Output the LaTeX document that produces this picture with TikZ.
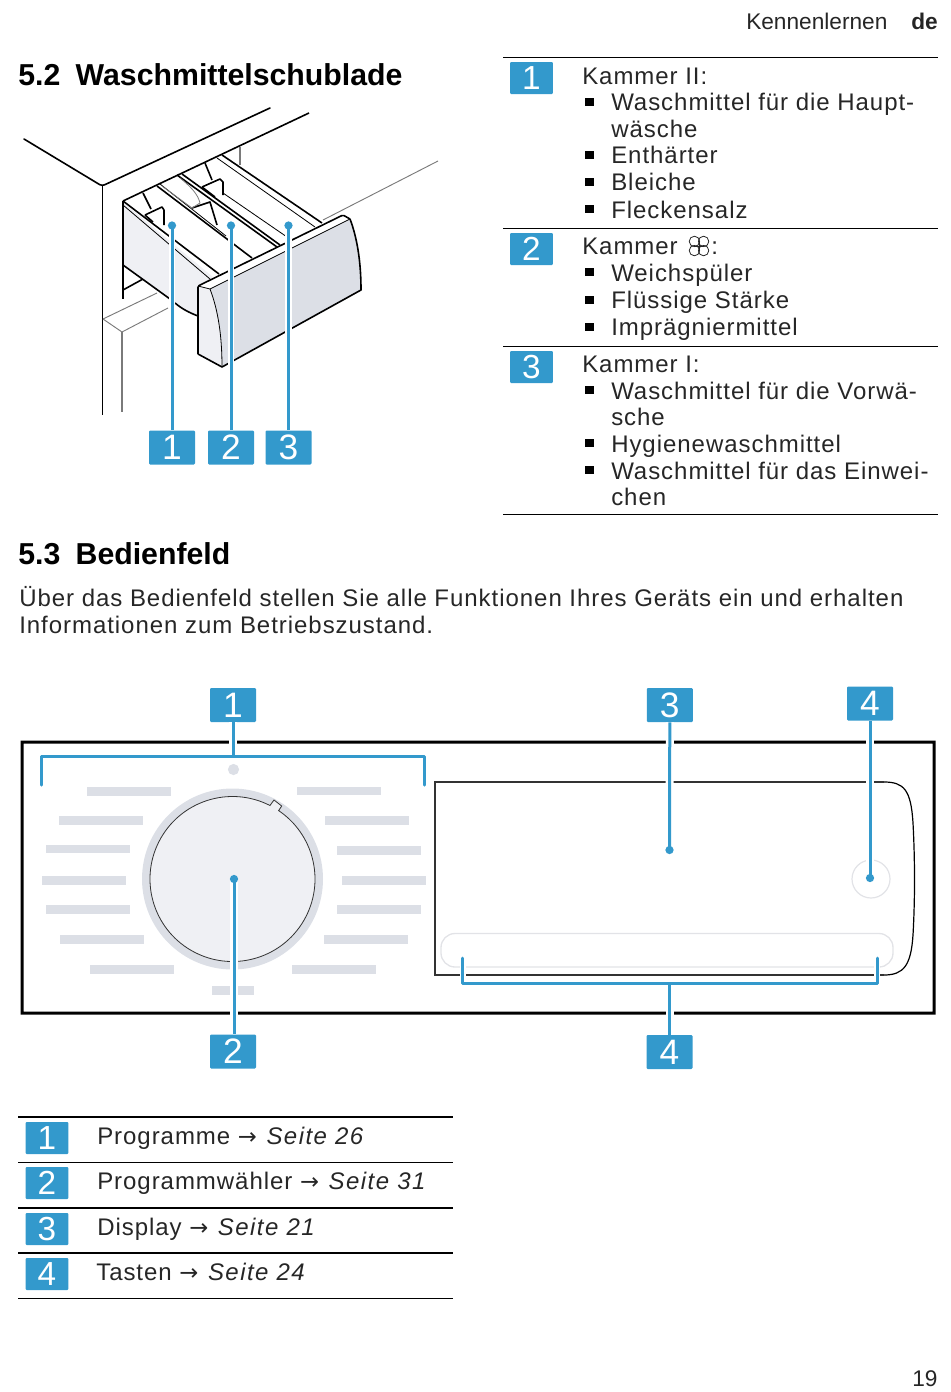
\documentclass[tikz,border=0pt]{standalone}
\usepackage{fontspec}
\setmainfont{Liberation Sans}[LetterSpace=4]
\newfontfamily\plainfont{Liberation Sans}
\newfontfamily\symfont{DejaVu Sans}
\newfontfamily\seitefont{Liberation Sans Italic}[LetterSpace=6]
\definecolor{boxblue}{HTML}{3399CC}
\definecolor{barg}{HTML}{DCDFE6}
\definecolor{knobg}{HTML}{EFF0F4}
\definecolor{edgeg}{HTML}{E2E3E7}
\definecolor{txtc}{HTML}{262626}
\definecolor{lineg}{HTML}{7A7A7A}
\tikzset{
  lbl/.style={inner sep=0pt,anchor=base west,text=txtc,font=\fontsize{18pt}{18pt}\selectfont},
  small/.style={inner sep=0pt,anchor=base west,text=txtc,font=\plainfont\fontsize{17pt}{17pt}\selectfont},
  head/.style={inner sep=0pt,anchor=base west,text=black,font=\plainfont\fontsize{22.7pt}{23pt}\selectfont\bfseries},
  numbox/.style={fill=boxblue,rounded corners=0.8pt,inner sep=0pt,text=white,minimum width=34.5pt,minimum height=25.5pt,font=\plainfont\fontsize{26.5pt}{26pt}\selectfont},
  smallbox/.style={numbox,minimum width=32pt,minimum height=24pt,font=\plainfont\fontsize{25pt}{25pt}\selectfont},
  bl/.style={draw=black,line width=1.2pt,line join=round},
  th/.style={draw=black,line width=0.6pt},
  gr/.style={draw=lineg,line width=1pt},
  halo/.style={draw=white,line width=6pt},
  lead/.style={draw=boxblue,line width=2.25pt},
  dotn/.style={circle,fill=boxblue,inner sep=0pt,minimum size=6.2pt},
  bar/.style={fill=barg,draw=none},
  bull/.style={fill=black,inner sep=0pt,minimum size=6.6pt},
}
\newcommand{\myarrow}{{\symfont\fontsize{17pt}{17pt}\selectfont →}\hspace{1.5pt}}
\newcommand{\seite}[1]{{\seitefont #1}}
\begin{document}
\begin{tikzpicture}[x=0.75pt,y=-0.75pt]
\useasboundingbox (0,0) rectangle (950,1392);
% ---- page texts
\node[small] (hdr) at (746,29) {Kennenlernen};
\node[small,font=\plainfont\fontsize{17pt}{17pt}\selectfont\bfseries] (hdrde) at (911,29) {de};
\node[small] (pageno) at (912,1386) {19};
\node[head] (h52) at (18,85.5) {5.2\hspace{11.5pt}Waschmittelschublade};
\node[head] (h53) at (18,564.5) {5.3\hspace{11.5pt}Bedienfeld};
\node[lbl] (para1) at (19,606) {Über das Bedienfeld stellen Sie alle Funktionen Ihres Geräts ein und erhalten};
\node[lbl] (para2) at (19,633) {Informationen zum Betriebszustand.};
% ---- right table
\foreach \y in {57.5,228.5,346.5,514.5}{
  \fill[black] (503,\y-0.8) rectangle (938,\y+0.8);
}
\node[smallbox] (t1) at (531.5,78) {1};
\node[smallbox] (t2) at (531.5,249) {2};
\node[smallbox] (t3) at (531.5,367) {3};
\node[lbl] (k1) at (582,84) {Kammer II:};
\node[lbl] (k2) at (582,254) {Kammer};
\node[lbl] (k2c) at (711,254) {:};
\foreach \a in {45,135,225,315}{
  \draw[draw=txtc,line width=0.6pt] (699,246) ++(\a:6.5) circle (5.2);
}
\draw[draw=txtc,line width=0.6pt] (699,241) -- (699,251) (694,246) -- (704,246);
\node[lbl] (k3) at (582,372) {Kammer I:};
\foreach \i/\y/\s in {
 a/110/{Waschmittel für die Haupt-},
 b/137/{wäsche},
 c/163/{Enthärter},
 d/190/{Bleiche},
 e/218/{Fleckensalz},
 f/281/{Weichspüler},
 g/308/{Flüssige Stärke},
 h/335/{Imprägniermittel},
 i/399/{Waschmittel für die Vorwä-},
 j/425/{sche},
 k/452/{Hygienewaschmittel},
 l/479/{Waschmittel für das Einwei-},
 m/505/{chen}}{
  \node[lbl] (li\i) at (611,\y) {\s};
}
\foreach \i/\y in {a/102,c/155,d/182,e/209,f/272,g/300,h/327,i/390,k/443,l/470}{
  \node[bull] (bu\i) at (589.5,\y) {};
}
% ---- drawer drawing
\fill[knobg] (123,202) -- (123,265) -- (170,299) -- (175,303) .. controls (182,309) and (190,313) .. (198,316) -- (198,286) -- (213,277) -- cycle;
\draw[bl,line cap=round,rounded corners=2pt] (24,139) -- (102,186) -- (270,108);
\draw[bl] (102.5,186) -- (102.5,415);
\draw[bl] (123,201) -- (309,113);
\draw[gr] (240,147) -- (240,165);
\draw[gr,line width=0.7pt] (323,220) -- (438,161);
\draw[gr,line width=0.7pt] (103,319) -- (122,332) -- (168,308);
\draw[gr,line width=0.7pt] (103,319) -- (157,293);
\draw[gr] (122,332) -- (122,412);
% drawer body
\draw[bl] (123,201) -- (123,299);
\draw[bl] (123,201) -- (219,274);
\draw[th] (123,205) -- (210,279);
\draw[bl] (123,265) -- (170,299);
\draw[bl] (175,303) .. controls (182,309) and (190,313) .. (198,316);
\draw[bl] (123,290) -- (143,279);
% tray lines
\draw[bl] (222,155) -- (322,223);
\draw[th] (217,158) -- (315,227);
\draw[bl] (157,186) -- (252,258);
\draw[th] (160,184) -- (226,236);
\draw[bl] (177,175) -- (277,247);
\draw[bl] (182,174) -- (280,245);
\draw[th] (223,193) -- (287,237);
% siphons
\draw[bl] (143,193) -- (151,209);
\draw[bl] (145,215) -- (162,207) -- (164,210) -- (164,225);
\draw[bl] (145,215) -- (153,222);
\draw[bl] (205,163) -- (212,180);
\draw[bl] (202,187) -- (220,179) -- (223,182) -- (223,195);
\draw[bl] (202,187) -- (215,197);
% middle insert
\draw[bl] (192,208) -- (210,202) -- (217,225);
\draw[gr,line width=0.6pt] (162,186) -- (192,208);
\draw[gr,line width=0.6pt] (180,178) .. controls (190,186) and (198,194) .. (200,203) -- (192,208);
% front panel
\fill[white] (198,286) -- (343,215) -- (350,219) -- (210,289) -- cycle;
\fill[barg] (210,289) -- (350,219) .. controls (358,240) and (361,265) .. (361,290) -- (222,367) .. controls (222,335) and (218,310) .. (210,289) -- cycle;
\fill[knobg] (198,286) -- (210,289) .. controls (218,310) and (222,335) .. (222,367) -- (198,354) -- cycle;
\draw[bl,rounded corners=1pt] (198,354) -- (198,286) -- (343,215) -- (350,219);
\draw[bl] (350,219) .. controls (358,240) and (361,265) .. (361,290) -- (222,367) -- (198,354);
\draw[bl,line width=0.6pt] (198,286) -- (210,289) -- (350,219);
\draw[bl,line width=0.6pt] (210,289) .. controls (218,310) and (222,335) .. (222,367);
% drawer leaders
\node[numbox] (d1) at (172,447.5) {1};
\node[numbox] (d2) at (231,447.5) {2};
\node[numbox] (d3) at (288.5,447.5) {3};
\node[dotn] (dd1) at (172,225.5) {};
\node[dotn] (dd2) at (231,225.5) {};
\node[dotn] (dd3) at (288.5,225.5) {};
\foreach \k in {1,2,3}{
  \draw[halo,line width=5pt] (d\k.north) -- (dd\k.south);
  \draw[lead] (d\k.north) -- (dd\k.center);
}
% ---- control panel
\fill[black,even odd rule] (20.5,740.5) rectangle (935.5,1014.5) (23.5,743.5) rectangle (932.5,1011.5);
\foreach \xa/\ya in {87/787,59/816,46/844.5,42/876,46/905,60/935,90/965,297/786.5,325/816,337/846,342/876,337/905,324/935,292/965}{
  \fill[bar] (\xa,\ya) rectangle ++(84,8.5);
}
\fill[bar] (212,986) rectangle (254,994.5);
\node[circle,fill=barg,inner sep=0pt,minimum size=8.4pt] (ledp) at (233.5,769.5) {};
\fill[barg] (232.5,879) circle (90.5);
\draw[draw=black!80,line width=0.6pt,fill=knobg] (232.5,879) ++(-63:82.5) arc[start angle=-63,end angle=-416,radius=82.5] -- (281.7,806) -- (274,800) -- cycle;
% display
\draw[draw=black!80,line width=1.1pt] (884,782) -- (435,782) -- (435,975) -- (884,975);
\draw[draw=black,line width=0.9pt] (884,782) .. controls (904,782) and (911,790) .. (913,823) .. controls (915,860) and (915,900) .. (913,935) .. controls (911,965) and (904,975) .. (884,975);
\draw[draw=edgeg,line width=1pt,rounded corners=10.5pt] (441,933.5) rectangle (893,967);
\node[circle,draw=edgeg,line width=0.9pt,fill=white,inner sep=0pt,minimum size=28.5pt] (btn) at (871,879) {};
% panel labels
\node[numbox] (p1) at (233,705) {1};
\node[numbox] (p2) at (233,1051.5) {2};
\node[numbox] (p3) at (669.8,705) {3};
\node[numbox] (p4) at (870,703.5) {4};
\node[numbox] (p5) at (669.5,1052) {4};
\coordinate (cp2) at (234,879);
\coordinate (cp3) at (669.5,850);
\coordinate (cp4) at (870,878);
\coordinate (b1m) at (233,756);
\coordinate (b1l) at (41.5,785);
\coordinate (b1r) at (424.5,785);
\coordinate (b2m) at (669.5,983.5);
\coordinate (b2l) at (462.5,958);
\coordinate (b2r) at (877,958);
\draw[halo] (p1.south) -- (b1m);
\draw[halo] (cp2) -- (cp2 |- p2.north);
\draw[halo] (p3.south) -- (cp3);
\draw[halo] (p4.south) -- (cp4);
\draw[halo] (p5.north) -- (b2m);
\draw[halo,line width=4.5pt] (b2l) -- (b2l |- b2m);
\draw[halo,line width=4.5pt] (b2r) -- (b2r |- b2m);
\node[dotn] (dp2) at (cp2) {};
\node[dotn] (dp3) at (cp3) {};
\node[dotn] (dp4) at (cp4) {};
\draw[lead] (p1.south) -- (b1m);
\draw[lead,line cap=round,line join=round] (b1l) -- (b1l |- b1m) -- (b1r |- b1m) -- (b1r);
\draw[lead] (dp2.center) -- (dp2 |- p2.north);
\draw[lead] (p3.south) -- (dp3.center);
\draw[lead] (p4.south) -- (dp4.center);
\draw[lead] (p5.north) -- (b2m);
\draw[lead,line cap=round,line join=round] (b2l) -- (b2l |- b2m) -- (b2r |- b2m) -- (b2r);
% ---- bottom table
\foreach \y in {1117,1162.5,1208,1253,1298.5}{
  \fill[black] (18,\y-0.8) rectangle (453,\y+0.8);
}
\node[smallbox] (s1) at (47,1138) {1};
\node[smallbox] (s2) at (47,1183) {2};
\node[smallbox] (s3) at (47,1229) {3};
\node[smallbox] (s4) at (47,1274) {4};
\node[lbl] (r1) at (97,1144) {Programme \myarrow{} \seite{Seite 26}};
\node[lbl] (r2) at (97,1189) {Programmwähler \myarrow{} \seite{Seite 31}};
\node[lbl] (r3) at (97,1235) {Display \myarrow{} \seite{Seite 21}};
\node[lbl] (r4) at (96,1280) {Tasten \myarrow{} \seite{Seite 24}};
\end{tikzpicture}
\end{document}
